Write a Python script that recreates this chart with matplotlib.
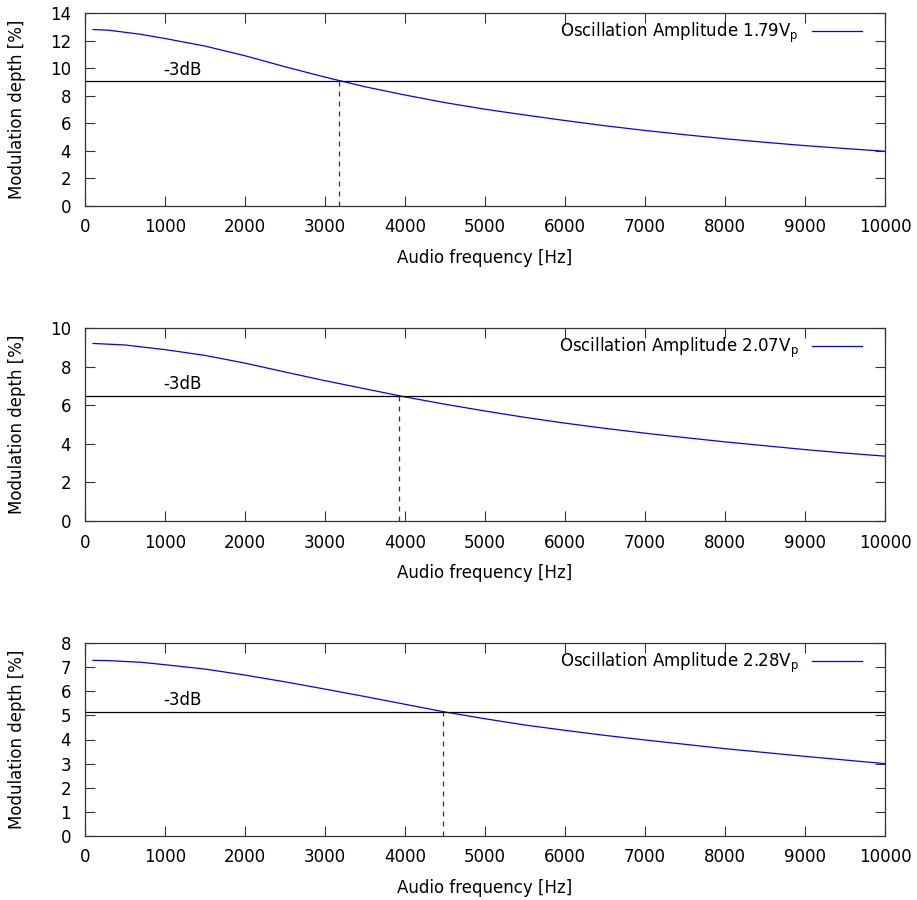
import matplotlib
matplotlib.use("Agg")
import matplotlib.pyplot as plt

plt.rcParams["font.family"] = ["DejaVu Sans"]
plt.rcParams["mathtext.fontset"] = "dejavusans"

# audio frequency [Hz] and modulation depth [%] for each oscillation amplitude
freq_a = [100, 300, 500, 700, 1000, 1500, 2000, 2500, 3000, 3500, 4000, 4500, 5000,
          5500, 6000, 6500, 7000, 7500, 8000, 8500, 9000, 9500, 10000]
depth_a = [12.8, 12.75, 12.6, 12.45, 12.15, 11.6, 10.9, 10.1, 9.35, 8.65, 8.05, 7.5, 7.02,
           6.6, 6.2, 5.82, 5.48, 5.17, 4.88, 4.62, 4.38, 4.17, 3.97]

freq_b = [100, 500, 1000, 1500, 2000, 2500, 3000, 3500, 4000, 4500, 5000, 5500, 6000,
          6500, 7000, 7500, 8000, 8500, 9000, 9500, 10000]
depth_b = [9.2, 9.12, 8.88, 8.58, 8.18, 7.72, 7.27, 6.85, 6.43, 6.05, 5.7, 5.37, 5.07,
           4.8, 4.55, 4.32, 4.1, 3.9, 3.7, 3.52, 3.36]

freq_c = [100, 300, 700, 1000, 1500, 2000, 2500, 3000, 3500, 4000, 4500, 5000, 5500,
          6000, 6500, 7000, 7500, 8000, 8500, 9000, 9500, 10000]
depth_c = [7.28, 7.27, 7.2, 7.1, 6.92, 6.67, 6.39, 6.09, 5.78, 5.46, 5.14, 4.86, 4.6,
           4.38, 4.17, 3.98, 3.8, 3.62, 3.46, 3.3, 3.15, 3.0]

amplitudes = ["1.79", "2.07", "2.28"]
cutoffs = [3170, 3920, 4480]        # -3dB frequency
levels = [9.05, 6.5, 5.15]          # -3dB level
ymax = [14, 10, 8]
ystep = [2, 2, 1]

series = [(freq_a, depth_a), (freq_b, depth_b), (freq_c, depth_c)]

fs = 12
fig = plt.figure(figsize=(9.17, 9.0), dpi=100)
W, H = 917.0, 900.0
tops = [13, 328, 643]
for i in range(3):
    top, bottom = tops[i], tops[i] + 193
    ax = fig.add_axes([85 / W, 1 - bottom / H, 800 / W, 193 / H])
    f, d = series[i]
    ax.plot(f, d, color="blue", lw=0.9,
            label="Oscillation Amplitude %s$\\mathregular{V_p}$" % amplitudes[i])
    ax.axhline(levels[i], color="black", lw=0.9)
    ax.plot([cutoffs[i], cutoffs[i]], [0, levels[i]], color="#333333", lw=0.9, ls=(0, (4, 4)))
    ax.text(980, levels[i] + ymax[i] * 0.012, "-3dB", fontsize=fs, ha="left", va="bottom")
    ax.set_xlim(0, 10000)
    ax.set_ylim(0, ymax[i])
    ax.set_xticks(range(0, 10001, 1000))
    ax.set_yticks(range(0, ymax[i] + 1, ystep[i]))
    ax.tick_params(direction="in", top=True, right=True, length=7, width=0.8,
                   labelsize=fs, color="#333333")
    ax.tick_params(axis="x", pad=9)
    ax.tick_params(axis="y", pad=10)
    for s in ax.spines.values():
        s.set_color("#333333")
        s.set_linewidth(0.9)
    ax.set_xlabel("Audio frequency [Hz]", fontsize=fs, labelpad=9)
    ax.set_ylabel("Modulation depth [%]", fontsize=fs)
    ax.yaxis.set_label_coords(-59 / 800, 0.5)
    ax.legend(loc="upper right", frameon=False, fontsize=fs, markerfirst=False,
              handlelength=3.0, handletextpad=0.8, borderaxespad=0.8,
              bbox_to_anchor=(1 - 3 / 800, 1 + 12 / 193))

fig.savefig("out.png", dpi=100)
